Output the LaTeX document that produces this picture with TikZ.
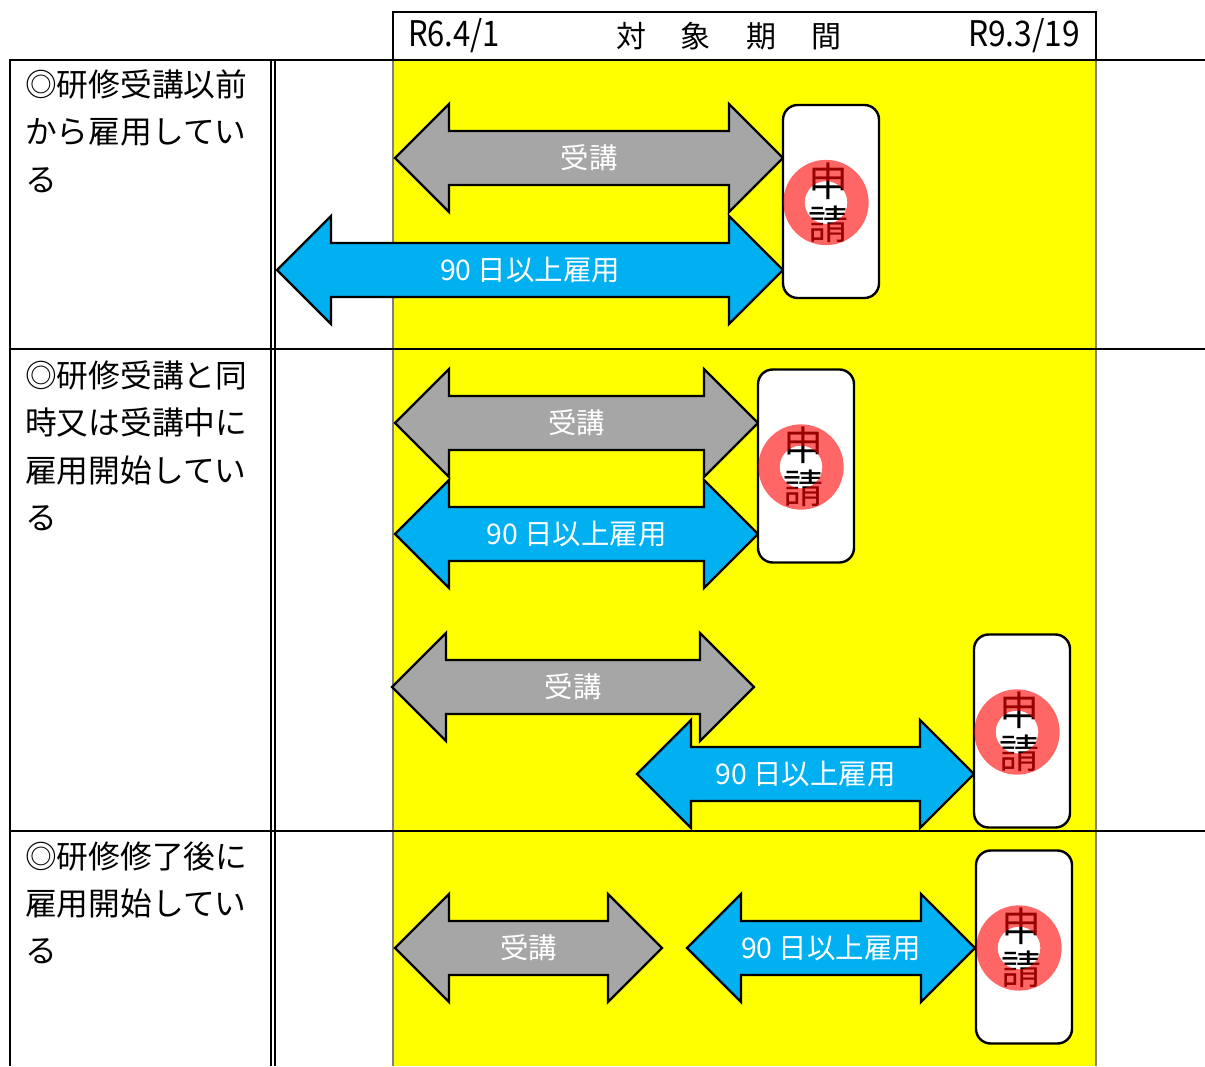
\documentclass[tikz,border=0pt]{standalone}
\usepackage{fontspec}
\setmainfont{Noto Sans CJK JP}
\usepackage{graphicx}
\definecolor{ygold}{HTML}{FFFF00}
\definecolor{agray}{HTML}{A6A6A6}
\definecolor{ablue}{HTML}{00B0F0}
\definecolor{lgray}{HTML}{808080}
\tikzset{
  dbl/.style={fill=#1, draw=black, line width=1.8pt, line join=miter},
  arrowtxt/.style={text=white, font=\fontsize{21.3pt}{24pt}\selectfont, inner sep=0},
  appbox/.style={draw=black, line width=1.8pt, fill=white, rounded corners=11pt,
                 minimum width=72pt, minimum height=144.75pt, inner sep=0},
  lefttxt/.style={anchor=base west, font=\fontsize{23.8pt}{30pt}\selectfont, inner sep=0},
  tline/.style={line width=1.6pt, line cap=rect},
  hdrtxt/.style={inner sep=0, font=\fontsize{22.5pt}{26pt}\selectfont},
}
\newcommand{\dblarr}[5]{%
  \draw[dbl=#4] (#1,#3) -- ({#1+54},{#3-54}) -- ({#1+54},{#3-27}) -- ({#2-54},{#3-27})
    -- ({#2-54},{#3-54}) -- (#2,#3) -- ({#2-54},{#3+54}) -- ({#2-54},{#3+27})
    -- ({#1+54},{#3+27}) -- ({#1+54},{#3+54}) -- cycle;
  \coordinate (#5) at ({(#1+#2)/2},#3);}
\newcommand{\shinsei}[3]{%
  \node[appbox] (#1) at (#2,#3) {};
  \node[inner sep=0, align=center, font=\fontsize{30pt}{32pt}\selectfont] (#1t) at ({#2-3},{#3+1}) {申\\請};
  \fill[red, opacity=0.6, even odd rule] ({#2-5},{#3+1}) circle[radius=32pt] circle[radius=16pt];}
\begin{document}
\begin{tikzpicture}[x=0.75pt, y=-0.75pt]
\useasboundingbox (0,0) rectangle (1205,1066);
\fill[white] (0,0) rectangle (1205,1066);
% yellow period column
\fill[ygold] (393,60) rectangle (1096,1066);
\draw[lgray, line width=0.8pt] (393,60) -- (393,1066);
\draw[lgray, line width=0.8pt] (1096,60) -- (1096,1066);
% header
\draw[line width=1.6pt, fill=white] (393,12) rectangle (1096,60);
\node[hdrtxt] (h1) at (454,36) {\resizebox{69pt}{21pt}{R6.4/1}};
\node[hdrtxt] (h2) at (728.5,36) {対\hspace{26.25pt}象\hspace{26.25pt}期\hspace{26.25pt}間};
\node[hdrtxt] (h3) at (1024,36) {\resizebox{84pt}{21pt}{R9.3/19}};
% table lines
\draw[tline] (10,60) -- (1205,60);
\draw[tline] (10,349) -- (1205,349);
\draw[tline] (10,831) -- (1205,831);
\draw[line width=2.2pt] (10,60) -- (10,1066);
\draw[line width=1.2pt] (271,60) -- (271,1066);
\draw[line width=1.2pt] (275,60) -- (275,1066);
% left labels
\node[lefttxt] (r1a) at (25,97) {◎研修受講以前};
\node[lefttxt] (r1b) at (25,144) {から雇用してい};
\node[lefttxt] (r1c) at (25,192) {る};
\node[lefttxt] (r2a) at (25,387) {◎研修受講と同};
\node[lefttxt] (r2b) at (25,434) {時又は受講中に};
\node[lefttxt] (r2c) at (25,482) {雇用開始してい};
\node[lefttxt] (r2d) at (25,529) {る};
\node[lefttxt] (r3a) at (25,868) {◎研修修了後に};
\node[lefttxt] (r3b) at (25,915) {雇用開始してい};
\node[lefttxt] (r3c) at (25,962) {る};
% row 1
\dblarr{395}{783}{158}{agray}{g1}
\node[arrowtxt] (g1t) at (g1) {受講};
\dblarr{277}{783}{270}{ablue}{b1}
\node[arrowtxt] (b1t) at (b1) {90 日以上雇用};
\shinsei{s1}{831}{201.5}
% row 2
\dblarr{395}{758}{423}{agray}{g2}
\node[arrowtxt] (g2t) at (g2) {受講};
\dblarr{395}{758}{534}{ablue}{b2}
\node[arrowtxt] (b2t) at (b2) {90 日以上雇用};
\shinsei{s2}{806}{466}
\dblarr{392}{754}{687}{agray}{g3}
\node[arrowtxt] (g3t) at (g3) {受講};
\dblarr{637}{974}{774}{ablue}{b3}
\node[arrowtxt] (b3t) at (b3) {90 日以上雇用};
\shinsei{s3}{1022}{731}
% row 3
\dblarr{395}{662}{948}{agray}{g4}
\node[arrowtxt] (g4t) at (g4) {受講};
\dblarr{687}{975}{948}{ablue}{b4}
\node[arrowtxt] (b4t) at (b4) {90 日以上雇用};
\shinsei{s4}{1024}{947}
\end{tikzpicture}
\end{document}
